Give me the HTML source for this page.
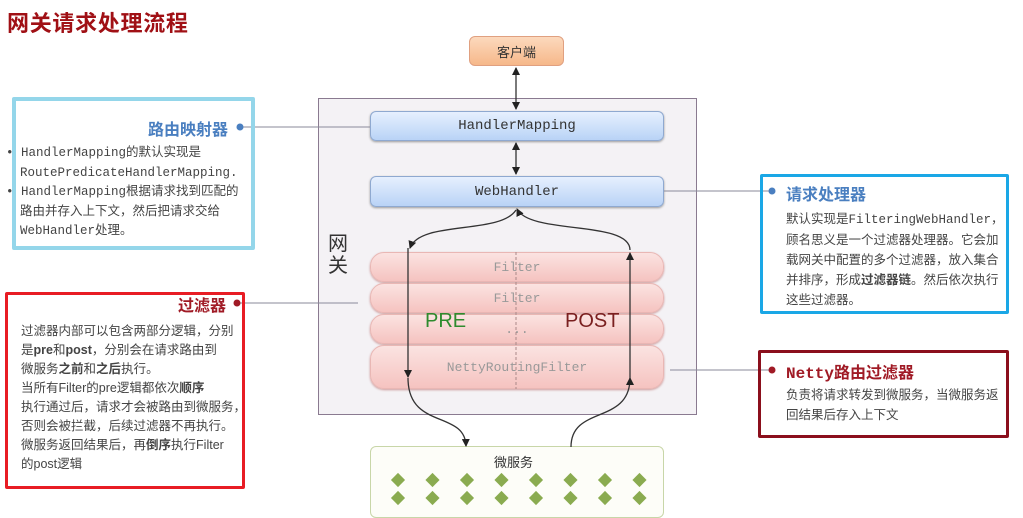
<!DOCTYPE html>
<html><head><meta charset="utf-8"><style>
*{margin:0;padding:0;box-sizing:border-box}
body{width:1023px;height:515px;background:#fff;position:relative;overflow:hidden;font-family:"Liberation Sans","Noto Sans CJK SC",sans-serif;color:#444}
.a{position:absolute}
.mono{font-family:"Liberation Mono","Noto Sans CJK SC",monospace}
.bx{position:absolute;border-radius:6px}
.blue{background:linear-gradient(#e6f0fe,#b9d3f6);border:1px solid #8fa9d0;box-shadow:0 1px 2px #999;display:flex;align-items:center;justify-content:center;font-size:14px;color:#333}
.pink{background:linear-gradient(#fbe3e1,#f5c3c0);border:1px solid #e9b7b4;border-radius:14px;display:flex;align-items:center;justify-content:center;font-size:13px;color:#999;box-shadow:0 1px 2px #c99}
.t{font-size:13px;line-height:19px;color:#444}
</style></head><body>
<div class="a" style="left:7px;top:6px;font-size:22px;font-weight:bold;color:#a01015;letter-spacing:0.7px">网关请求处理流程</div>

<div class="bx" style="left:469px;top:36px;width:95px;height:30px;background:linear-gradient(#fcd9bd,#f6b88a);border:1px solid #e0a080;display:flex;align-items:center;justify-content:center;font-size:13px;color:#333">客户端</div>

<div class="a" style="left:318px;top:98px;width:379px;height:317px;background:#f4f2f5;border:1.5px solid #8a7a90"></div>
<div class="a" style="left:328px;top:233px;font-size:20px;line-height:22px;color:#333;width:22px">网关</div>

<div class="bx blue mono" style="left:370px;top:111px;width:294px;height:30px">HandlerMapping</div>
<div class="bx blue mono" style="left:370px;top:176px;width:294px;height:31px">WebHandler</div>

<div class="a pink mono" style="left:370px;top:252px;width:294px;height:30px">Filter</div>
<div class="a pink mono" style="left:370px;top:283px;width:294px;height:30px">Filter</div>
<div class="a pink mono" style="left:370px;top:314px;width:294px;height:30px">...</div>
<div class="a pink mono" style="left:370px;top:345px;width:294px;height:44px">NettyRoutingFilter</div>
<div class="a" style="left:425px;top:310px;font-size:20px;color:#2e8b2e">PRE</div>
<div class="a" style="left:565px;top:310px;font-size:20px;color:#7a2020">POST</div>

<div class="bx" style="left:370px;top:446px;width:294px;height:72px;background:#fdfdf8;border:1px solid #c8d6a8"></div>
<div class="a" style="left:494px;top:452px;font-size:13px;color:#333">微服务</div>

<svg class="a" style="left:0;top:0" width="1023" height="515">
<defs><marker id="ar" markerWidth="8" markerHeight="8" refX="7" refY="4" orient="auto-start-reverse" markerUnits="userSpaceOnUse"><path d="M0,0L8,4L0,8z" fill="#222"/></marker></defs>
<g stroke="#333" stroke-width="1.3" fill="none">
<line x1="516" y1="68" x2="516" y2="109" marker-start="url(#ar)" marker-end="url(#ar)"/>
<line x1="516" y1="143" x2="516" y2="174" marker-start="url(#ar)" marker-end="url(#ar)"/>
<path d="M516,210 C500,235 420,220 410,248" marker-end="url(#ar)"/>
<line x1="408" y1="248" x2="408" y2="377" marker-end="url(#ar)"/>
<path d="M408,378 C408,430 465,410 466,446" marker-end="url(#ar)"/>
<path d="M571,447 C571,405 630,425 630,378" marker-end="url(#ar)"/>
<line x1="630" y1="378" x2="630" y2="253" marker-end="url(#ar)"/>
<path d="M630,250 C630,220 530,235 517,209" marker-end="url(#ar)"/>
</g>
<line x1="516" y1="252" x2="516" y2="389" stroke="#a88" stroke-width="1" stroke-dasharray="3,2"/>
<g fill="#8aab50">
<g id="dr">
<rect x="393" y="475" width="10" height="10" transform="rotate(45 398 480)"/>
<rect x="427.5" y="475" width="10" height="10" transform="rotate(45 432.5 480)"/>
<rect x="462" y="475" width="10" height="10" transform="rotate(45 467 480)"/>
<rect x="496.5" y="475" width="10" height="10" transform="rotate(45 501.5 480)"/>
<rect x="531" y="475" width="10" height="10" transform="rotate(45 536 480)"/>
<rect x="565.5" y="475" width="10" height="10" transform="rotate(45 570.5 480)"/>
<rect x="600" y="475" width="10" height="10" transform="rotate(45 605 480)"/>
<rect x="634.5" y="475" width="10" height="10" transform="rotate(45 639.5 480)"/>
</g>
<use href="#dr" y="18"/>
</g>
<g stroke="#8a8a9a" stroke-width="1">
<line x1="242" y1="127" x2="370" y2="127"/>
<line x1="240" y1="303" x2="358" y2="303"/>
<line x1="664" y1="191" x2="770" y2="191"/>
<line x1="670" y1="370" x2="770" y2="370"/>
</g>
<circle cx="240" cy="127" r="3.5" fill="#4a7fc0"/>
<circle cx="237" cy="303" r="3.5" fill="#a01a25"/>
<circle cx="772" cy="191" r="3.5" fill="#4a7fc0"/>
<circle cx="772" cy="370" r="3.5" fill="#a01a25"/>
</svg>

<div class="a" style="left:12px;top:97px;width:243px;height:153px;border:4px solid #94d6ea;border-radius:2px"></div>
<div class="a" style="left:148px;top:116px;font-size:16px;font-weight:bold;color:#4a7fc0">路由映射器</div>
<div class="a t mono" style="left:6px;top:144px;width:240px;font-size:12.5px;line-height:19.5px">
<div>•&nbsp;HandlerMapping的默认实现是</div>
<div style="padding-left:14px">RoutePredicateHandlerMapping.</div>
<div>•&nbsp;HandlerMapping根据请求找到匹配的</div>
<div style="padding-left:14px">路由并存入上下文，然后把请求交给</div>
<div style="padding-left:14px">WebHandler处理。</div>
</div>

<div class="a" style="left:5px;top:292px;width:240px;height:197px;border:3px solid #e81c24;border-radius:2px"></div>
<div class="a" style="left:178px;top:292px;font-size:16px;font-weight:bold;color:#a01a25">过滤器</div>
<div class="a t" style="left:21px;top:322px;width:225px;font-size:12.5px;line-height:19px">
<div>过滤器内部可以包含两部分逻辑，分别</div>
<div>是<b>pre</b>和<b>post</b>，分别会在请求路由到</div>
<div>微服务<b>之前</b>和<b>之后</b>执行。</div>
<div>当所有Filter的pre逻辑都依次<b>顺序</b></div>
<div>执行通过后，请求才会被路由到微服务，</div>
<div>否则会被拦截，后续过滤器不再执行。</div>
<div>微服务返回结果后，再<b>倒序</b>执行Filter</div>
<div>的post逻辑</div>
</div>

<div class="a" style="left:760px;top:174px;width:249px;height:140px;border:3px solid #1aa7e6;border-radius:2px"></div>
<div class="a" style="left:786px;top:181px;font-size:16px;font-weight:bold;color:#4a7fc0">请求处理器</div>
<div class="a t" style="left:786px;top:209px;width:222px;font-size:12.5px;line-height:20px">
<div>默认实现是<span class="mono">FilteringWebHandler</span>，</div>
<div>顾名思义是一个过滤器处理器。它会加</div>
<div>载网关中配置的多个过滤器，放入集合</div>
<div>并排序，形成<b>过滤器链</b>。然后依次执行</div>
<div>这些过滤器。</div>
</div>

<div class="a" style="left:758px;top:350px;width:251px;height:88px;border:3px solid #8b0f1c;border-radius:2px"></div>
<div class="a mono" style="left:786px;top:359px;font-size:16px;font-weight:bold;color:#a01a25">Netty<span style="font-family:'Noto Sans CJK SC',sans-serif">路由过滤器</span></div>
<div class="a t" style="left:786px;top:386px;width:222px;font-size:12.5px;line-height:19.5px">
<div>负责将请求转发到微服务，当微服务返</div>
<div>回结果后存入上下文</div>
</div>
</body></html>
